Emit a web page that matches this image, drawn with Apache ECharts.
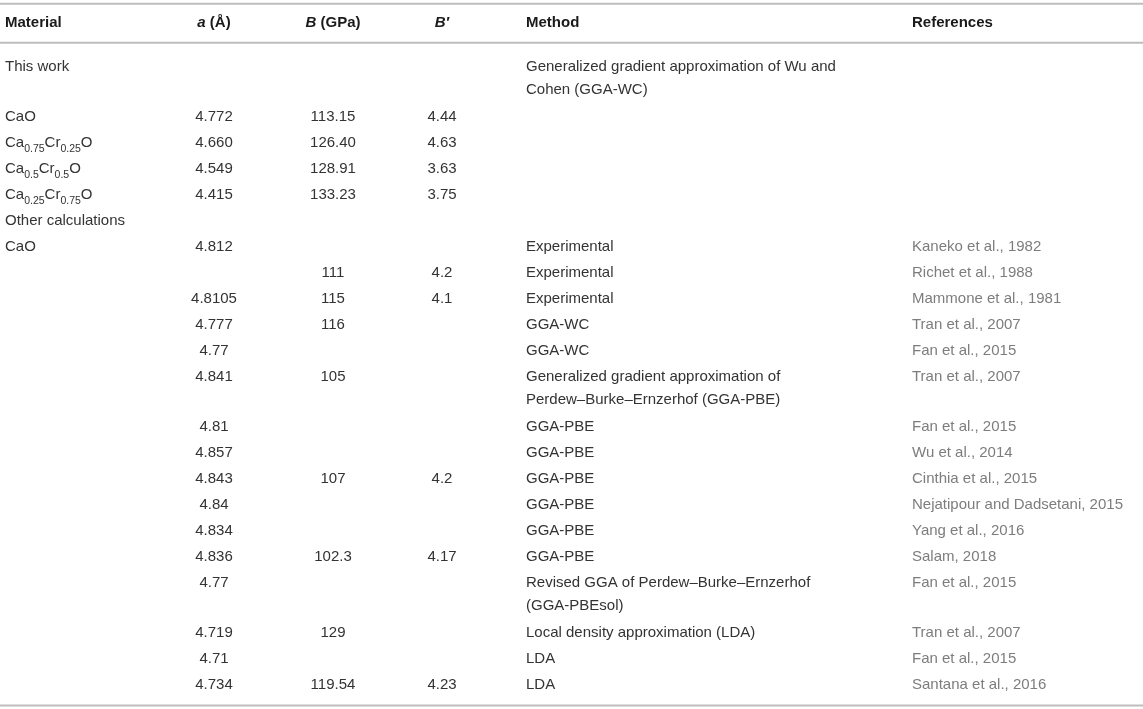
<!DOCTYPE html>
<html>
<head>
<meta charset="utf-8">
<script src="https://cdn.jsdelivr.net/npm/echarts@6/dist/echarts.min.js"></script>
<style>
    html, body {margin: 0; padding: 0; background: #fff;}
    #main {width: 1143px; height: 709px;}
</style>
</head>
<body>
<div id="main"></div>
<script>
    // 表格数据
    var headers = ['Material', 'a (Å)', 'B (GPa)', 'B′', 'Method', 'References'];
    var materials = ['This work', 'CaO', 'Ca0.75Cr0.25O', 'Ca0.5Cr0.5O', 'Ca0.25Cr0.75O', 'Other calculations',
        'CaO', '', '', '', '', '', '', '', '', '', '', '', '', '', '', ''];
    var aValues = ['', '4.772', '4.660', '4.549', '4.415', '',
        '4.812', '', '4.8105', '4.777', '4.77', '4.841', '4.81', '4.857', '4.843', '4.84', '4.834', '4.836', '4.77', '4.719', '4.71', '4.734'];
    var bValues = ['', '113.15', '126.40', '128.91', '133.23', '',
        '', '111', '115', '116', '', '105', '', '', '107', '', '', '102.3', '', '129', '', '119.54'];
    var bPrimeValues = ['', '4.44', '4.63', '3.63', '3.75', '',
        '', '4.2', '4.1', '', '', '', '', '', '4.2', '', '', '4.17', '', '', '', '4.23'];
    var methods = ['Generalized gradient approximation of Wu and\nCohen (GGA-WC)', '', '', '', '', '',
        'Experimental', 'Experimental', 'Experimental', 'GGA-WC', 'GGA-WC',
        'Generalized gradient approximation of\nPerdew–Burke–Ernzerhof (GGA-PBE)',
        'GGA-PBE', 'GGA-PBE', 'GGA-PBE', 'GGA-PBE', 'GGA-PBE', 'GGA-PBE',
        'Revised GGA of Perdew–Burke–Ernzerhof\n(GGA-PBEsol)',
        'Local density approximation (LDA)', 'LDA', 'LDA'];
    var references = ['', '', '', '', '', '',
        'Kaneko et al., 1982', 'Richet et al., 1988', 'Mammone et al., 1981', 'Tran et al., 2007', 'Fan et al., 2015',
        'Tran et al., 2007', 'Fan et al., 2015', 'Wu et al., 2014', 'Cinthia et al., 2015', 'Nejatipour and Dadsetani, 2015',
        'Yang et al., 2016', 'Salam, 2018', 'Fan et al., 2015', 'Tran et al., 2007', 'Fan et al., 2015', 'Santana et al., 2016'];

    var columns = [
        {x: 5, align: 'left'},
        {x: 214, align: 'center'},
        {x: 333, align: 'center'},
        {x: 442, align: 'center'},
        {x: 526, align: 'left'},
        {x: 912, align: 'left'}
    ];
    var FONT = '"Liberation Sans", Arial, sans-serif';
    var LINE_H = 23;
    var EXTRA_LINE = 0.92; // 多行单元格每多一行占的行高

    // 每行位置 = 前面各行高度之和
    var rowPos = [];
    var pos = 0;
    for (var i = 0; i < materials.length; i++) {
        rowPos.push([0, pos]);
        var lines = methods[i] ? methods[i].split('\n').length : 1;
        pos += 1 + EXTRA_LINE * (lines - 1);
    }
    var headerPos = -1.7;
    var lastPos = rowPos[rowPos.length - 1][1];
    var rulePos = [[0, headerPos - 0.73], [0, headerPos + 0.77], [0, lastPos + 0.8]];

    function subFormat(s) {
        return s.replace(/(\d+(?:\.\d+)?)/g, '{sub|$1}');
    }
    function headerFormat(s, c) {
        if (c >= 1 && c <= 3) {
            var parts = s.split(' ');
            parts[0] = '{i|' + parts[0] + '}';
            return parts.join(' ');
        }
        return s;
    }

    function textEl(text, c, pt, bold) {
        return {
            type: 'text',
            style: {
                text: text,
                x: pt[0],
                y: pt[1] - LINE_H / 2,
                align: columns[c].align,
                verticalAlign: 'top',
                fill: bold ? '#1a1a1a' : (c === 5 ? '#7d7d7d' : '#333'),
                fontFamily: FONT,
                fontSize: 15,
                fontWeight: bold ? 'bold' : 'normal',
                lineHeight: LINE_H,
                rich: {
                    sub: {fontSize: 10.5, fontFamily: FONT, fill: '#333', verticalAlign: 'bottom'},
                    i: {fontStyle: 'italic', fontWeight: 'bold', fontSize: 15, fontFamily: FONT, fill: '#1a1a1a'}
                }
            }
        };
    }

    function renderRow(params, api) {
        var i = params.dataIndex;
        var cells = [materials[i], aValues[i], bValues[i], bPrimeValues[i], methods[i], references[i]];
        var children = [];
        for (var c = 0; c < cells.length; c++) {
            if (!cells[c]) continue;
            var pt = api.coord([columns[c].x, api.value(1)]);
            children.push(textEl(c === 0 ? subFormat(cells[c]) : cells[c], c, pt, false));
        }
        return {type: 'group', children: children};
    }

    function renderHeader(params, api) {
        var children = [];
        for (var c = 0; c < headers.length; c++) {
            var pt = api.coord([columns[c].x, api.value(1)]);
            children.push(textEl(headerFormat(headers[c], c), c, pt, true));
        }
        return {type: 'group', children: children};
    }

    function renderRule(params, api) {
        var p1 = api.coord([0, api.value(1)]);
        var p2 = api.coord([1143, api.value(1)]);
        return {
            type: 'line',
            shape: {x1: p1[0], y1: p1[1], x2: p2[0], y2: p2[1]},
            style: {stroke: '#bdbdbd', lineWidth: 2}
        };
    }

    var table = echarts.init(document.getElementById('main'));
    var option = {
        animation: false,
        grid: {left: 0, right: 0, top: 2, bottom: 2.4},
        xAxis: {type: 'value', min: 0, max: 1143, show: false},
        yAxis: {type: 'value', min: -2.5, max: 24.6, inverse: true, show: false},
        series: [
            {type: 'custom', renderItem: renderRule, data: rulePos, silent: true},
            {type: 'custom', renderItem: renderHeader, data: [[0, headerPos]], silent: true},
            {type: 'custom', renderItem: renderRow, data: rowPos, silent: true}
        ]
    };
    table.setOption(option);
</script>
</body>
</html>
